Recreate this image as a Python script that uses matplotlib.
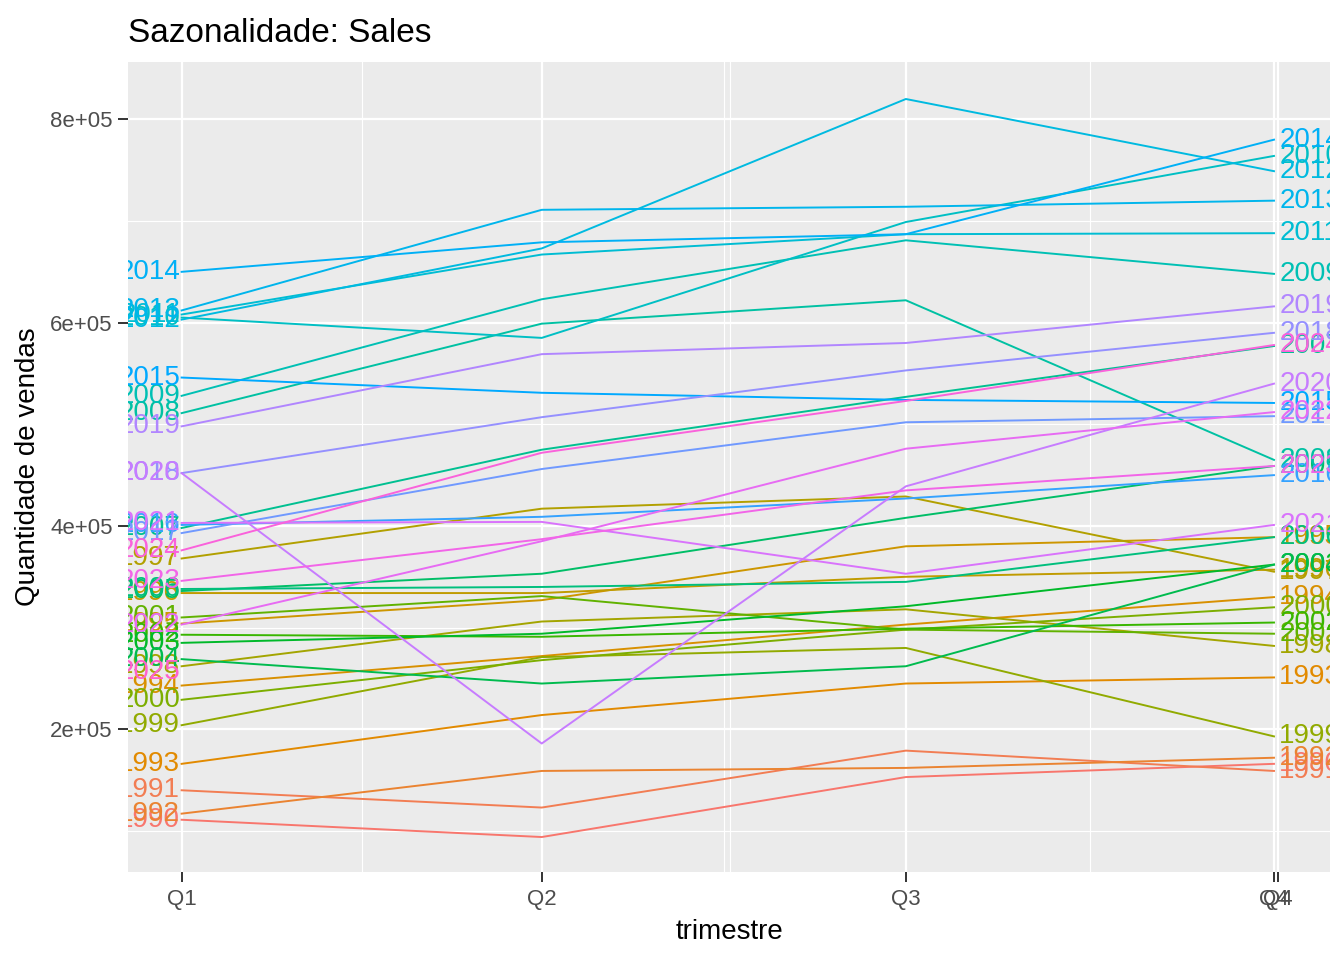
import numpy as np
import matplotlib
matplotlib.use("Agg")
import matplotlib.pyplot as plt

plt.rcParams["font.family"] = ["Liberation Sans", "DejaVu Sans"]

# quarterly sales per year
years = list(range(1990, 2026))
q1 = [111e3, 140e3, 117e3, 166e3, 243e3, 304e3, 334e3, 368e3, 262e3, 204e3,
      229e3, 310e3, 293e3, 285e3, 269e3, 336e3, 338e3, 398e3, 511e3, 528e3,
      605e3, 608e3, 603e3, 612e3, 650e3, 546e3, 401e3, 393e3, 452e3, 498e3,
      452e3, 403e3, 303e3, 346e3, 376e3, 256e3]
q2 = [94e3, 123e3, 159e3, 214e3, 272e3, 327e3, 334e3, 417e3, 306e3, 271e3,
      268e3, 331e3, 291e3, 294e3, 245e3, 353e3, 340e3, 475e3, 599e3, 623e3,
      585e3, 667e3, 673e3, 711e3, 679e3, 531e3, 409e3, 456e3, 507e3, 569e3,
      186e3, 404e3, 385e3, 387e3, 472e3, np.nan]
q3 = [153e3, 179e3, 162e3, 245e3, 303e3, 380e3, 350e3, 429e3, 318e3, 280e3,
      298e3, 298e3, 299e3, 321e3, 262e3, 408e3, 345e3, 527e3, 622e3, 681e3,
      699e3, 687e3, 820e3, 714e3, 687e3, 524e3, 427e3, 502e3, 553e3, 580e3,
      439e3, 353e3, 476e3, 435e3, 523e3, np.nan]
q4 = [166e3, 159e3, 172e3, 251e3, 330e3, 389e3, 357e3, 355e3, 282e3, 193e3,
      320e3, 294e3, 305e3, 362e3, 362e3, 459e3, 389e3, 577e3, 465e3, 648e3,
      764e3, 688e3, 749e3, 720e3, 780e3, 521e3, 450e3, 508e3, 590e3, 616e3,
      540e3, 401e3, 512e3, 459e3, 578e3, np.nan]

quarter_days = [0, 90, 181, 273]
tick_pos = [0, 90, 181, 273, 274]
tick_labels = ["Q1", "Q2", "Q3", "Q4", "Q4"]


def hcl_hex(h, c=100.0, l=65.0):
    # same conversion as R's hcl()
    hr = np.deg2rad(h)
    U, V = c * np.cos(hr), c * np.sin(hr)
    Y = ((l + 16) / 116) ** 3
    un, vn = 0.1978398, 0.4683363
    u = U / (13 * l) + un
    v = V / (13 * l) + vn
    X = 9.0 * Y * u / (4 * v)
    Z = -X / 3 - 5 * Y + 3 * Y / v
    m = np.array([[3.240479, -1.537150, -0.498535],
                  [-0.969256, 1.875992, 0.041556],
                  [0.055648, -0.204043, 1.057311]])
    rgb = m @ np.array([X, Y, Z])
    rgb = np.where(rgb <= 0.0031308, 12.92 * rgb, 1.055 * np.abs(rgb) ** (1 / 2.4) - 0.055)
    rgb = np.clip(rgb, 0, 1)
    return "#%02X%02X%02X" % tuple(int(round(x * 255)) for x in rgb)


hues = np.linspace(15, 375, 41)[:40]
colors = [hcl_hex(hues[i]) for i in range(len(years))]

fig = plt.figure(figsize=(13.44, 9.6), dpi=100)
ax = fig.add_axes([128 / 1344, 88 / 960, 1202 / 1344, 810 / 960])
ax.set_facecolor("#EBEBEB")
for s in ax.spines.values():
    s.set_visible(False)

ax.set_xlim(-13.4, 287)
ax.set_ylim(59.6e3, 856.4e3)

ax.set_xticks(tick_pos)
ax.set_xticklabels(tick_labels)
ax.set_xticks([45, 135.5, 137, 227], minor=True)
ax.set_yticks([2e5, 4e5, 6e5, 8e5])
ax.set_yticklabels(["2e+05", "4e+05", "6e+05", "8e+05"])
ax.set_yticks([1e5, 3e5, 5e5, 7e5], minor=True)

ax.grid(which="major", color="white", linewidth=1.6)
ax.grid(which="minor", color="white", linewidth=0.8)
ax.set_axisbelow(True)
ax.tick_params(which="major", length=7, width=1.4, color="#333333",
               labelcolor="#4D4D4D", labelsize=16)
ax.tick_params(axis="x", pad=5)
ax.tick_params(axis="y", pad=4)
ax.tick_params(which="minor", length=0)

for i, yr in enumerate(years):
    vals = np.array([q1[i], q2[i], q3[i], q4[i]])
    ax.plot(quarter_days, vals, color=colors[i], linewidth=1.4, zorder=2)

for i, yr in enumerate(years):
    if not np.isnan(q4[i]):
        ax.text(274.3, q4[i], str(yr), color=colors[i], fontsize=20,
                ha="left", va="center", clip_on=True, zorder=3)
for i, yr in enumerate(years):
    ax.text(-0.4, q1[i], str(yr), color=colors[i], fontsize=20,
            ha="right", va="center", clip_on=True, zorder=3)

fig.text(128 / 1344, 1 - 33 / 960, "Sazonalidade: Sales", fontsize=24,
         ha="left", va="center", color="black")
fig.text(729 / 1344, 1 - 932 / 960, "trimestre", fontsize=20,
         ha="center", va="center", color="black")
fig.text(28 / 1344, 1 - 467 / 960, "Quantidade de vendas", fontsize=20,
         ha="center", va="center", rotation=90, color="black")

fig.savefig("out.png", dpi=100)
